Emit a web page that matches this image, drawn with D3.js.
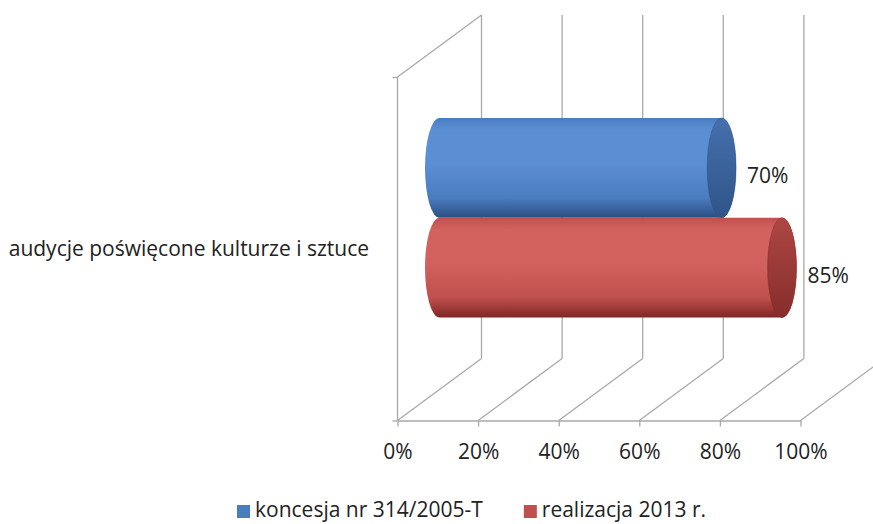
<!DOCTYPE html>
<html>
<head>
<meta charset="utf-8">
<script src="https://cdn.jsdelivr.net/npm/d3@7"></script>
<style>
  body { margin: 0; background: #fff; }
  svg { display: block; font-family: "Open Sans", sans-serif; }
  .tick text { font-size: 21px; fill: #222; }
</style>
</head>
<body>
<div id="chart"></div>
<script>
// data
var categories = ["audycje poświęcone kulturze i sztuce"];
var seriesNames = ["koncesja nr 314/2005-T", "realizacja 2013 r."];
var koncesja = [70];
var realizacja = [85];
var xTicks = [0, 20, 40, 60, 80, 100];

var colors = {
  blue: { light: "#5b8fd3", mid: "#4a7cc0", dark: "#2b4f82", capTop: "#4670ad", capBottom: "#2f5488" },
  red:  { light: "#d3625e", mid: "#c0504d", dark: "#7f2624", capTop: "#ad4744", capBottom: "#862d2b" }
};

var svgWidth = 873;
var svgHeight = 524;
var fontSize = 21;

// front plane of the 3d box
var plot = { left: 397.5, right: 800.5, top: 77, bottom: 420.5 };
var depth = { dx: 84, dy: -62 };
var gridColor = "#a9a9a9";

var svg = d3.select("#chart")
  .append("svg")
  .attr("width", svgWidth)
  .attr("height", svgHeight);

var defs = svg.append("defs");

function bodyGradient(id, c) {
  var g = defs.append("linearGradient")
    .attr("id", id).attr("x1", 0).attr("y1", 0).attr("x2", 0).attr("y2", 1);
  g.append("stop").attr("offset", "0%").attr("stop-color", c.mid);
  g.append("stop").attr("offset", "12%").attr("stop-color", c.light);
  g.append("stop").attr("offset", "45%").attr("stop-color", c.light);
  g.append("stop").attr("offset", "80%").attr("stop-color", c.mid);
  g.append("stop").attr("offset", "100%").attr("stop-color", c.dark);
}
function capGradient(id, c) {
  var g = defs.append("linearGradient")
    .attr("id", id).attr("x1", 0).attr("y1", 0).attr("x2", 0).attr("y2", 1);
  g.append("stop").attr("offset", "0%").attr("stop-color", c.capTop);
  g.append("stop").attr("offset", "100%").attr("stop-color", c.capBottom);
}
bodyGradient("bodyBlue", colors.blue);
bodyGradient("bodyRed", colors.red);
capGradient("capBlue", colors.blue);
capGradient("capRed", colors.red);

// scales
var xScale = d3.scaleLinear()
  .domain([0, 100])
  .range([plot.left, plot.right]);

var yScale = d3.scaleBand()
  .domain(categories)
  .range([plot.top, plot.bottom])
  .paddingOuter(0.36)
  .paddingInner(0);

var ySeries = d3.scaleBand()
  .domain(seriesNames)
  .range([0, yScale.bandwidth()]);

// back wall grid lines + floor diagonals
var grid = svg.append("g")
  .attr("stroke", gridColor)
  .attr("stroke-width", 1.3)
  .attr("fill", "none");

xTicks.forEach(function(t) {
  var x = xScale(t);
  grid.append("line")
    .attr("x1", x + depth.dx).attr("y1", plot.top + depth.dy)
    .attr("x2", x + depth.dx).attr("y2", plot.bottom + depth.dy);
  grid.append("line")
    .attr("x1", x).attr("y1", plot.bottom)
    .attr("x2", x + depth.dx).attr("y2", plot.bottom + depth.dy);
});

// left wall
grid.append("line")
  .attr("x1", xScale(0)).attr("y1", plot.top)
  .attr("x2", xScale(0)).attr("y2", plot.bottom);
grid.append("line")
  .attr("x1", xScale(0)).attr("y1", plot.top)
  .attr("x2", xScale(0) + depth.dx).attr("y2", plot.top + depth.dy);

// category axis ticks
var leftAxis = d3.axisLeft(d3.scaleLinear().domain([0, 1]).range([plot.bottom, plot.top]))
  .tickValues([0, 1])
  .tickSize(5)
  .tickFormat("");
svg.append("g")
  .attr("transform", "translate(" + xScale(0) + ",0)")
  .call(leftAxis)
  .call(function(g) { g.select(".domain").remove(); })
  .selectAll("line").attr("stroke", gridColor).attr("stroke-width", 1.3);

// value axis
var bottomAxis = d3.axisBottom(xScale)
  .tickValues(xTicks)
  .tickSizeInner(6)
  .tickSizeOuter(0)
  .tickPadding(18)
  .tickFormat(function(d) { return d + "%"; });
var xAxis = svg.append("g")
  .attr("transform", "translate(0," + plot.bottom + ")")
  .call(bottomAxis);
xAxis.select(".domain").attr("stroke", gridColor).attr("stroke-width", 1.3);
xAxis.selectAll(".tick line").attr("stroke", gridColor).attr("stroke-width", 1.3);
xAxis.selectAll(".tick text").attr("font-family", "Open Sans");

// category label
svg.append("text")
  .attr("x", 369)
  .attr("y", yScale(categories[0]) + yScale.bandwidth() / 2)
  .attr("dy", "0.35em")
  .attr("text-anchor", "end")
  .attr("font-size", fontSize)
  .attr("fill", "#222")
  .text(categories[0]);

// cylinders sit half way into the box
var midDx = depth.dx / 2;
var midDy = depth.dy / 2;
var rx = 14.5;

var bars = [
  { name: seriesNames[0], values: koncesja, body: "url(#bodyBlue)", cap: "url(#capBlue)", edge: colors.blue.dark, key: colors.blue.mid },
  { name: seriesNames[1], values: realizacja, body: "url(#bodyRed)", cap: "url(#capRed)", edge: colors.red.dark, key: colors.red.mid }
];

var barGroup = svg.append("g");
bars.forEach(function(s) {
  categories.forEach(function(c, i) {
    var v = s.values[i];
    var x0 = xScale(0) + midDx;
    var x1 = xScale(v) + midDx;
    var yt = yScale(c) + ySeries(s.name) + midDy;
    var yb = yt + ySeries.bandwidth();
    var ry = (yb - yt) / 2;

    barGroup.append("path")
      .attr("d", "M" + x0 + "," + yt + "L" + x1 + "," + yt +
        "A" + rx + "," + ry + " 0 0 1 " + x1 + "," + yb +
        "L" + x0 + "," + yb +
        "A" + rx + "," + ry + " 0 0 1 " + x0 + "," + yt + "Z")
      .attr("fill", s.body);

    barGroup.append("ellipse")
      .attr("cx", x1).attr("cy", yt + ry)
      .attr("rx", rx).attr("ry", ry)
      .attr("fill", s.cap)
      .attr("stroke", s.edge)
      .attr("stroke-opacity", 0.4)
      .attr("stroke-width", 1);

    barGroup.append("text")
      .attr("x", x1 + rx + 11)
      .attr("y", yt + ry + 15)
      .attr("font-size", fontSize)
      .attr("fill", "#222")
      .text(v + "%");
  });
});

// legend
var legend = svg.append("g");
var lx = 237;
bars.forEach(function(s) {
  legend.append("rect")
    .attr("x", lx).attr("y", 505)
    .attr("width", 13).attr("height", 13)
    .attr("fill", s.key);
  var t = legend.append("text")
    .attr("x", lx + 18).attr("y", 517)
    .attr("font-size", fontSize)
    .attr("fill", "#222")
    .text(s.name);
  lx = lx + 18 + t.node().getComputedTextLength() + 41;
});
</script>
</body>
</html>
